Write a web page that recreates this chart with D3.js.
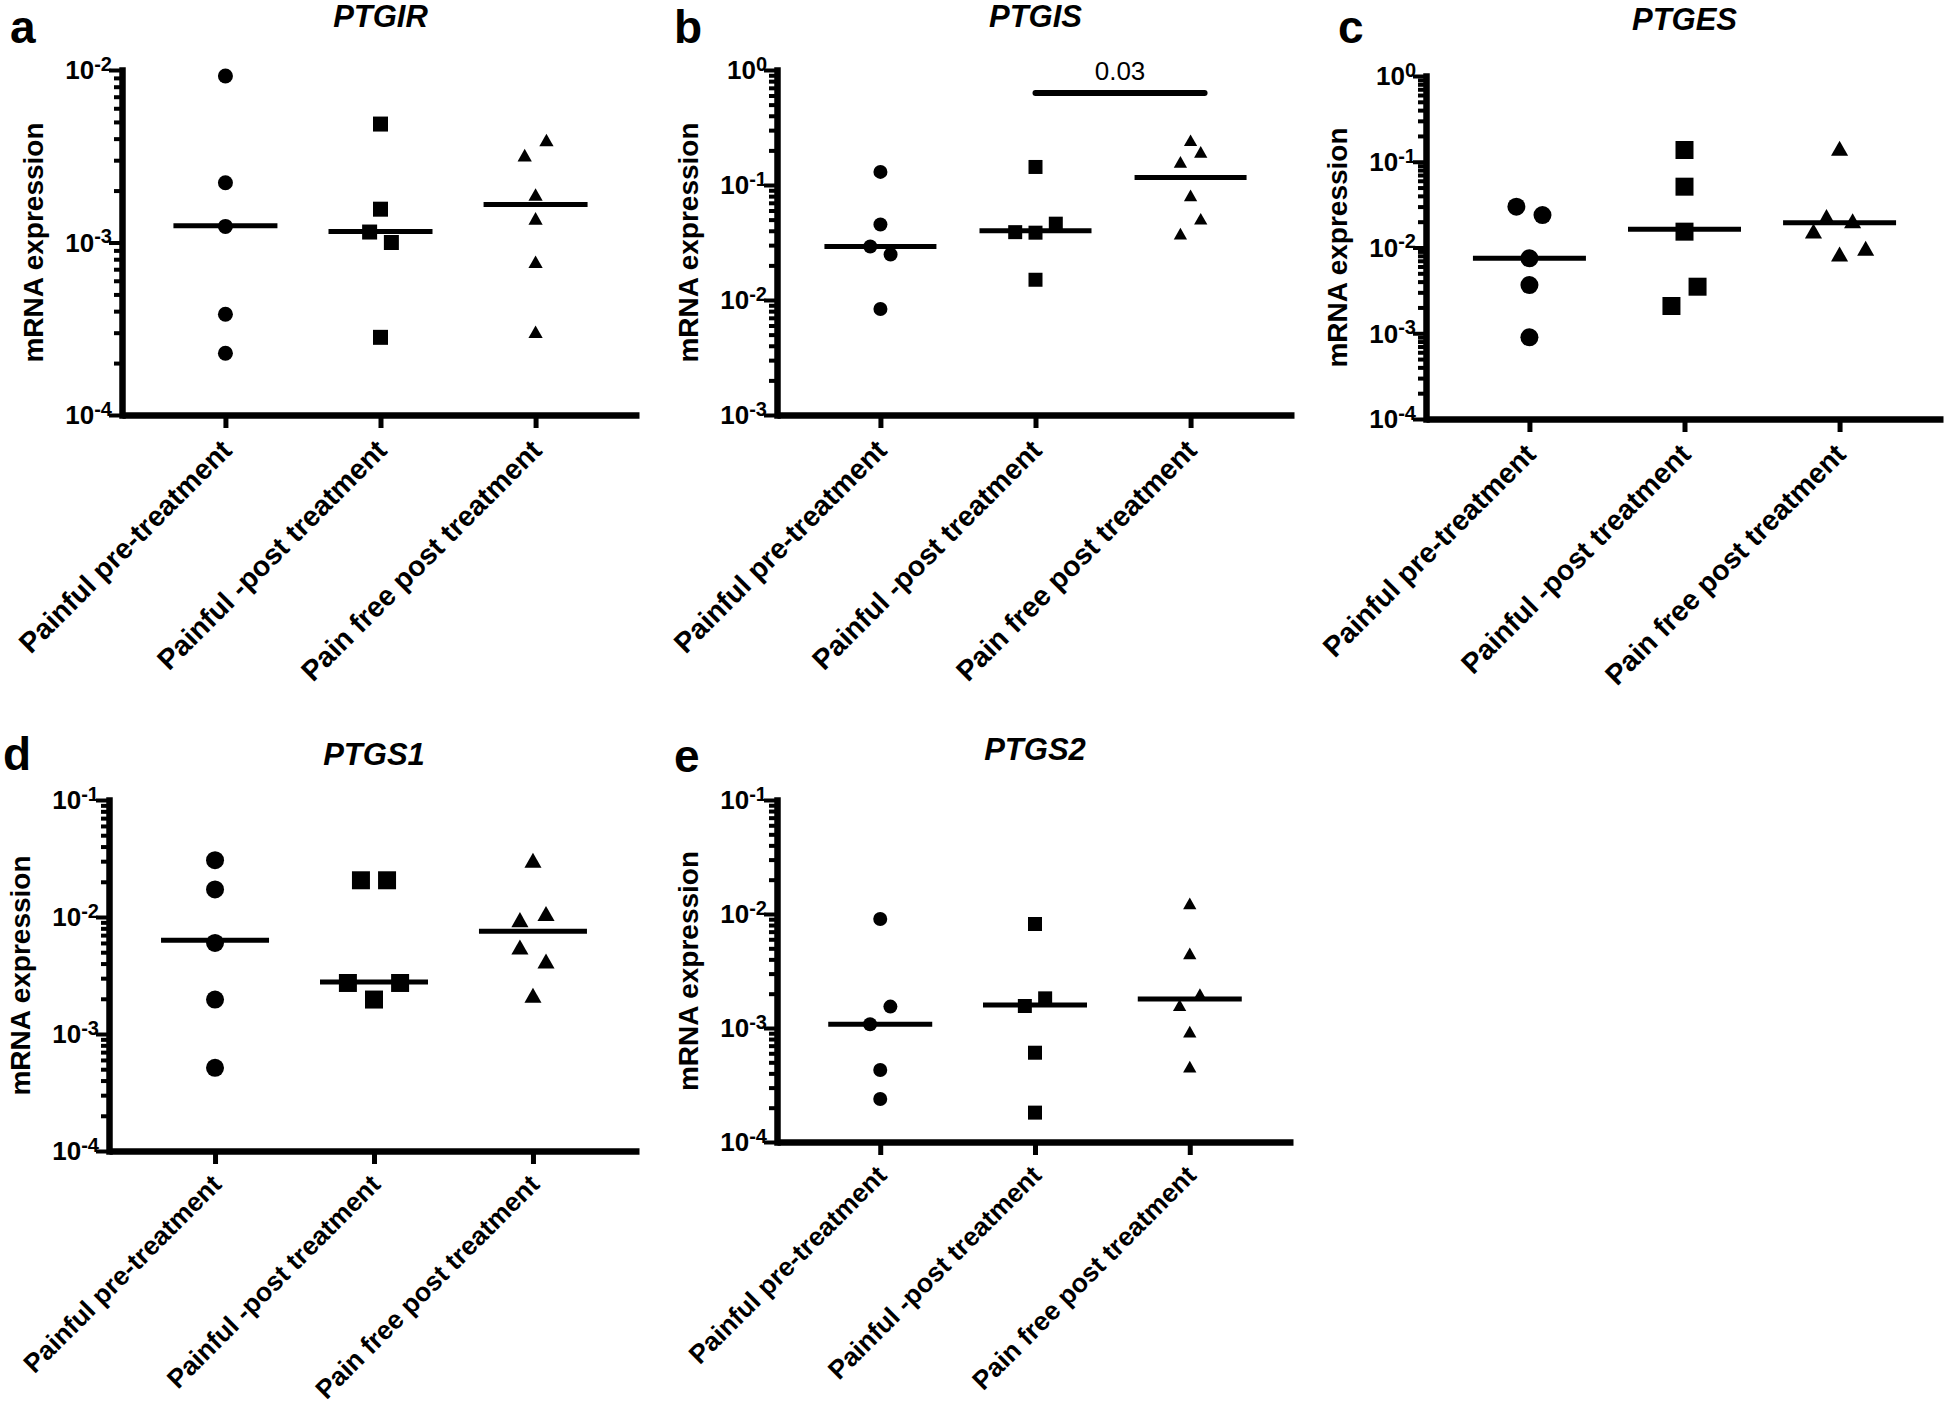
<!DOCTYPE html>
<html>
<head>
<meta charset="utf-8">
<script src="https://cdn.jsdelivr.net/npm/d3@7"></script>
<style>
  body { margin: 0; background: #fff; }
  svg { display: block; font-family: "Liberation Sans", Arial, sans-serif; }
</style>
</head>
<body>
<script>
// ---- data ----
const groups = ["Painful pre-treatment", "Painful -post treatment", "Pain free post treatment"];
const genes = ["PTGIR", "PTGIS", "PTGES", "PTGS1", "PTGS2"];
const letters = ["a", "b", "c", "d", "e"];
// axis range as powers of ten [low, high]
const decades = [[-4, -2], [-3, 0], [-4, 0], [-4, -1], [-4, -1]];

// values per group, in row order (neighbouring rows that overlap are set side by side)
const ptgirPre  = [9.23e-3, 2.22e-3, 1.24e-3, 3.84e-4, 2.28e-4];
const ptgirPost = [4.86e-3, 1.56e-3, 2.82e-4, 1.15e-3, 1.00e-3];
const ptgirFree = [3.21e-3, 3.93e-3, 1.38e-3, 3.04e-4, 1.90e-3, 7.74e-4];
const ptgirMed  = [1.25e-3, 1.16e-3, 1.66e-3];

const ptgisPre  = [0.0454, 0.130, 0.0292, 0.0249, 8.36e-3];
const ptgisPost = [0.1435, 0.0389, 0.0385, 0.0461, 0.0150];
const ptgisFree = [0.245, 0.0377, 0.0509, 0.159, 0.194, 0.0813];
const ptgisMed  = [0.0292, 0.0400, 0.116];

const ptgesPre  = [7.48e-3, 0.0299, 0.0239, 8.97e-4, 3.65e-3];
const ptgesPost = [0.137, 0.0512, 0.0153, 2.08e-3, 3.49e-3];
const ptgesFree = [0.0229, 0.0205, 0.1435, 0.0156, 8.4e-3, 9.8e-3];
const ptgesMed  = [7.48e-3, 0.0163, 0.0195];

const ptgs1Pre  = [0.0306, 6.0e-3, 0.0172, 1.97e-3, 5.14e-4];
const ptgs1Post = [0.0206, 0.0206, 2.73e-3, 1.97e-3, 2.73e-3];
const ptgs1Free = [0.0306, 9.5e-3, 0.0107, 2.14e-3, 5.55e-3, 4.21e-3];
const ptgs1Med  = [6.33e-3, 2.78e-3, 7.55e-3];

const ptgs2Pre  = [9.04e-3, 1.08e-3, 1.54e-3, 2.38e-4, 4.28e-4];
const ptgs2Post = [8.17e-3, 1.56e-3, 1.82e-3, 1.81e-4, 6.07e-4];
const ptgs2Free = [0.0124, 1.59e-3, 1.98e-3, 4.58e-4, 4.52e-3, 9.29e-4];
const ptgs2Med  = [1.08e-3, 1.59e-3, 1.80e-3];

const values = [
  [ptgirPre, ptgirPost, ptgirFree],
  [ptgisPre, ptgisPost, ptgisFree],
  [ptgesPre, ptgesPost, ptgesFree],
  [ptgs1Pre, ptgs1Post, ptgs1Free],
  [ptgs2Pre, ptgs2Post, ptgs2Free]
];
const medians = [ptgirMed, ptgisMed, ptgesMed, ptgs1Med, ptgs2Med];

// significance annotation on PTGIS
const sigPanel = 1;
const sigPair = [1, 2];
const sigLabel = "0.03";
const sigLevel = 0.63;

// ---- layout ----
const layout = [
  {x0: 122, x1: 639, top: 70, bot: 415, lx: 10, ly: 43, ty: 27, size: 15, mw: 104, cf: 28.5, cy: 37},
  {x0: 777, x1: 1294, top: 70, bot: 415, lx: 674, ly: 43, ty: 27, size: 14, mw: 112, cf: 28.5, cy: 37},
  {x0: 1426, x1: 1943, top: 76, bot: 419, lx: 1338, ly: 43, ty: 30, size: 18, mw: 113, cf: 28.5, cy: 37},
  {x0: 109, x1: 639, top: 800, bot: 1151, lx: 3, ly: 770, ty: 765, size: 18, mw: 108, cf: 26.5, cy: 35},
  {x0: 777, x1: 1293, top: 800, bot: 1142, lx: 674, ly: 772, ty: 760, size: 14, mw: 104, cf: 26.5, cy: 35}
];

const width = 1946, height = 1407;
const svg = d3.select("body").append("svg")
  .attr("width", width)
  .attr("height", height);

// triangle centred on its bounding box
const triangle = {
  draw(ctx, size) {
    const w = Math.sqrt(size), h = w * 0.88;
    ctx.moveTo(0, -h / 2);
    ctx.lineTo(w / 2, h / 2);
    ctx.lineTo(-w / 2, h / 2);
    ctx.closePath();
  }
};
const shapes = [d3.symbolCircle, d3.symbolSquare, triangle];

// points in consecutive rows that overlap are spread side by side
function spread(vals, y, size) {
  const limit = 1.5 * size, step = 1.45 * size;
  const off = new Array(vals.length).fill(0);
  let start = 0;
  for (let i = 1; i <= vals.length; i++) {
    if (i === vals.length || Math.abs(y(vals[i]) - y(vals[i - 1])) > limit) {
      const n = i - start;
      for (let k = 0; k < n; k++) off[start + k] = (k - (n - 1) / 2) * step;
      start = i;
    }
  }
  return off;
}

genes.forEach((gene, p) => {
  const L = layout[p];
  const [lo, hi] = decades[p];
  const g = svg.append("g");

  const x = d3.scalePoint().domain(groups).range([L.x0, L.x1]).padding(0.667);
  const y = d3.scaleLog().domain([10 ** lo, 10 ** hi]).range([L.bot, L.top]);

  const majors = d3.range(lo, hi + 1).map(e => 10 ** e);
  const minors = [];
  d3.range(lo, hi).forEach(e => {
    for (let m = 2; m <= 9; m++) minors.push(m * 10 ** e);
  });

  // minor ticks
  g.append("g")
    .attr("transform", `translate(${L.x0},0)`)
    .call(d3.axisLeft(y).tickValues(minors).tickSize(8).tickSizeOuter(0).tickFormat(""))
    .call(a => a.select(".domain").remove())
    .call(a => a.selectAll(".tick line").attr("stroke", "#000").attr("stroke-width", 4));

  // major ticks and labels
  const yAxis = g.append("g")
    .attr("transform", `translate(${L.x0},0)`)
    .call(d3.axisLeft(y).tickValues(majors).tickSize(13).tickSizeOuter(0).tickPadding(-3)
      .tickFormat(() => "10"));
  yAxis.select(".domain").attr("stroke", "#000").attr("stroke-width", 6.5).attr("stroke-linecap", "square");
  yAxis.selectAll(".tick line").attr("stroke", "#000").attr("stroke-width", 4);
  yAxis.selectAll(".tick text")
    .attr("fill", "#000")
    .attr("font-size", 26)
    .attr("font-weight", "bold")
    .attr("font-family", "'Liberation Sans', Arial, sans-serif")
    .attr("dy", "0.34em")
    .each(function (d) {
      d3.select(this).append("tspan")
        .attr("dy", "-0.42em")
        .attr("font-size", 20)
        .text(Math.round(Math.log10(d)));
    });

  // x axis
  const xAxis = g.append("g")
    .attr("transform", `translate(0,${L.bot})`)
    .call(d3.axisBottom(x).tickSize(13).tickSizeOuter(0).tickFormat(""));
  xAxis.select(".domain").attr("stroke", "#000").attr("stroke-width", 6.5);
  xAxis.selectAll(".tick line").attr("stroke", "#000").attr("stroke-width", 5);

  // category labels
  g.selectAll(".cat")
    .data(groups)
    .join("text")
    .attr("class", "cat")
    .attr("transform", d => `translate(${x(d) + 8},${L.bot + L.cy}) rotate(-45)`)
    .attr("text-anchor", "end")
    .attr("font-size", L.cf)
    .attr("font-weight", "bold")
    .text(d => d);

  // y label
  g.append("text")
    .attr("transform", `translate(${L.x0 - 89},${(L.top + L.bot) / 2}) rotate(-90)`)
    .attr("text-anchor", "middle")
    .attr("dominant-baseline", "central")
    .attr("font-size", 28)
    .attr("font-weight", "bold")
    .text("mRNA expression");

  // title and panel letter
  g.append("text")
    .attr("x", (L.x0 + L.x1) / 2)
    .attr("y", L.ty)
    .attr("text-anchor", "middle")
    .attr("font-size", 31)
    .attr("font-weight", "bold")
    .attr("font-style", "italic")
    .text(gene);

  g.append("text")
    .attr("x", L.lx)
    .attr("y", L.ly)
    .attr("font-size", 46)
    .attr("font-weight", "bold")
    .text(letters[p]);

  // points
  values[p].forEach((vals, k) => {
    const off = spread(vals, y, L.size);
    const area = k === 0 ? Math.PI * (L.size / 2) ** 2 : (k === 1 ? L.size * L.size : (L.size * 0.95) ** 2);
    const sym = d3.symbol().type(shapes[k]).size(area);
    g.selectAll(null)
      .data(vals)
      .join("path")
      .attr("d", sym)
      .attr("transform", (d, i) => `translate(${x(groups[k]) + off[i]},${y(d)})`)
      .attr("fill", "#000");
  });

  // median lines
  g.selectAll(".med")
    .data(medians[p])
    .join("line")
    .attr("class", "med")
    .attr("x1", (d, k) => x(groups[k]) - L.mw / 2)
    .attr("x2", (d, k) => x(groups[k]) + L.mw / 2)
    .attr("y1", d => y(d))
    .attr("y2", d => y(d))
    .attr("stroke", "#000")
    .attr("stroke-width", 5);

  if (p === sigPanel) {
    const xa = x(groups[sigPair[0]]), xb = x(groups[sigPair[1]]) + 14;
    g.append("line")
      .attr("x1", xa).attr("x2", xb)
      .attr("y1", y(sigLevel)).attr("y2", y(sigLevel))
      .attr("stroke", "#000")
      .attr("stroke-width", 6)
      .attr("stroke-linecap", "round");
    g.append("text")
      .attr("x", (xa + xb) / 2)
      .attr("y", y(sigLevel) - 13)
      .attr("text-anchor", "middle")
      .attr("font-size", 26)
      .text(sigLabel);
  }
});
</script>
</body>
</html>
